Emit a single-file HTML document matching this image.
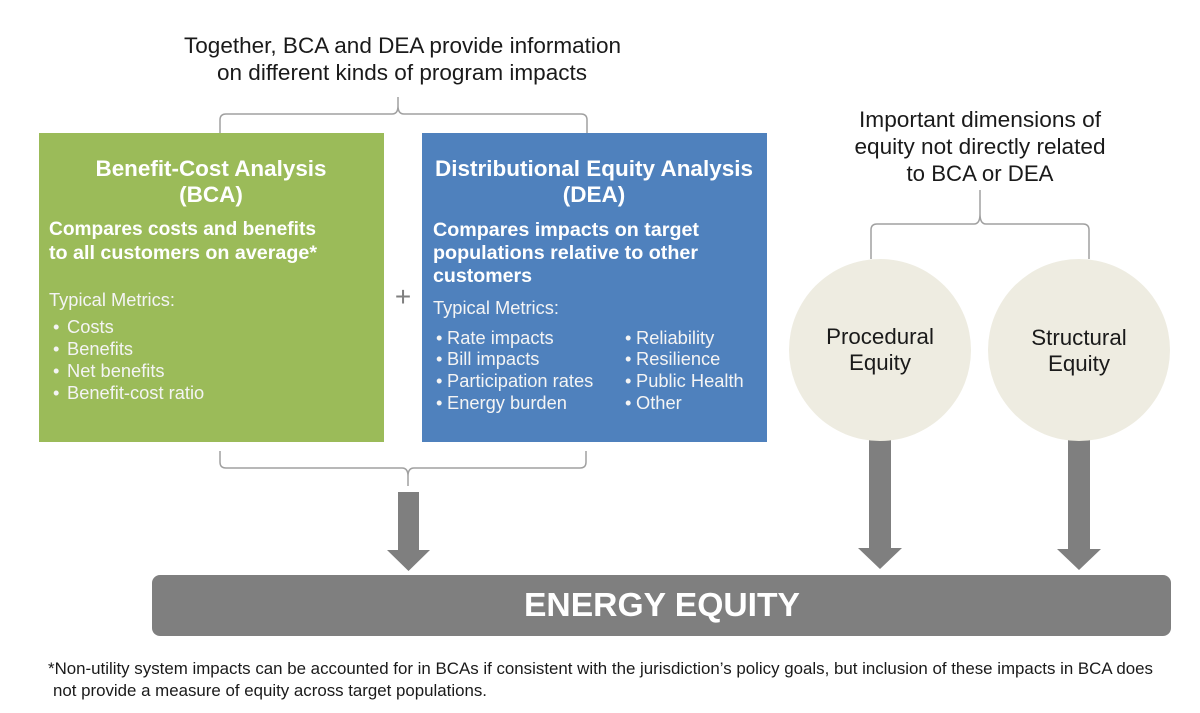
<!DOCTYPE html>
<html><head><meta charset="utf-8"><style>
html,body{margin:0;padding:0;background:#fff;}
svg{display:block;}
text{font-family:"Liberation Sans",Arial,sans-serif;}
</style></head><body>
<svg width="1200" height="713" viewBox="0 0 1200 713" xmlns="http://www.w3.org/2000/svg">
<rect width="1200" height="713" fill="#fff"/>
<!-- top title -->
<text x="184" y="53" font-size="22.5" fill="#1a1a1a" textLength="437" lengthAdjust="spacingAndGlyphs">Together, BCA and DEA provide information</text>
<text x="217" y="80" font-size="22.5" fill="#1a1a1a" textLength="370" lengthAdjust="spacingAndGlyphs">on different kinds of program impacts</text>
<!-- top brace -->
<path d="M220,133 L220,120 Q220,114 226,114 L392,114 Q398,114 398,106 L398,97 M398,106 Q398,114 404,114 L581,114 Q587,114 587,120 L587,133" fill="none" stroke="#a0a0a0" stroke-width="1.5"/>
<!-- green box -->
<rect x="39" y="133" width="345" height="309" fill="#9bbb59"/>
<text x="211" y="176" font-size="22.5" font-weight="bold" fill="#fff" text-anchor="middle" textLength="231" lengthAdjust="spacingAndGlyphs">Benefit-Cost Analysis</text>
<text x="211" y="202" font-size="22.5" font-weight="bold" fill="#fff" text-anchor="middle">(BCA)</text>
<text x="49" y="235" font-size="19" font-weight="bold" fill="#fff" textLength="267" lengthAdjust="spacingAndGlyphs">Compares costs and benefits</text>
<text x="49" y="259" font-size="19" font-weight="bold" fill="#fff" textLength="268" lengthAdjust="spacingAndGlyphs">to all customers on average*</text>
<text x="49" y="306" font-size="18.3" fill="#f4f4f4">Typical Metrics:</text>
<g font-size="18.3" fill="#f4f4f4">
<text x="53" y="333">•</text><text x="67" y="333">Costs</text>
<text x="53" y="355">•</text><text x="67" y="355">Benefits</text>
<text x="53" y="377">•</text><text x="67" y="377">Net benefits</text>
<text x="53" y="399">•</text><text x="67" y="399">Benefit-cost ratio</text>
</g>
<!-- plus -->
<text x="403" y="306" font-size="28" fill="#7f7f7f" text-anchor="middle">+</text>
<!-- blue box -->
<rect x="422" y="133" width="345" height="309" fill="#4f81bd"/>
<text x="594" y="176" font-size="22.5" font-weight="bold" fill="#fff" text-anchor="middle" textLength="318" lengthAdjust="spacingAndGlyphs">Distributional Equity Analysis</text>
<text x="594" y="202" font-size="22.5" font-weight="bold" fill="#fff" text-anchor="middle">(DEA)</text>
<text x="433" y="236" font-size="19" font-weight="bold" fill="#fff" textLength="266" lengthAdjust="spacingAndGlyphs">Compares impacts on target</text>
<text x="433" y="259" font-size="19" font-weight="bold" fill="#fff" textLength="265" lengthAdjust="spacingAndGlyphs">populations relative to other</text>
<text x="433" y="282" font-size="19" font-weight="bold" fill="#fff" textLength="99" lengthAdjust="spacingAndGlyphs">customers</text>
<text x="433" y="314" font-size="18.3" fill="#f4f4f4">Typical Metrics:</text>
<g font-size="18.3" fill="#f4f4f4">
<text x="436" y="344">•</text><text x="447" y="344">Rate impacts</text>
<text x="436" y="365">•</text><text x="447" y="365">Bill impacts</text>
<text x="436" y="387">•</text><text x="447" y="387">Participation rates</text>
<text x="436" y="409">•</text><text x="447" y="409">Energy burden</text>
<text x="625" y="344">•</text><text x="636" y="344">Reliability</text>
<text x="625" y="365">•</text><text x="636" y="365">Resilience</text>
<text x="625" y="387">•</text><text x="636" y="387">Public Health</text>
<text x="625" y="409">•</text><text x="636" y="409">Other</text>
</g>
<!-- bottom brace -->
<path d="M220,451 L220,462 Q220,468 226,468 L402,468 Q408,468 408,476 L408,486 M408,476 Q408,468 414,468 L580,468 Q586,468 586,462 L586,451" fill="none" stroke="#a0a0a0" stroke-width="1.5"/>
<!-- arrow 1 -->
<path d="M398,492 L419,492 L419,550 L430,550 L408.5,571 L387,550 L398,550 Z" fill="#7f7f7f"/>
<!-- right title -->
<text x="980" y="127" font-size="22.5" fill="#1a1a1a" text-anchor="middle" textLength="242" lengthAdjust="spacingAndGlyphs">Important dimensions of</text>
<text x="980" y="154" font-size="22.5" fill="#1a1a1a" text-anchor="middle" textLength="251" lengthAdjust="spacingAndGlyphs">equity not directly related</text>
<text x="980" y="181" font-size="22.5" fill="#1a1a1a" text-anchor="middle" textLength="147" lengthAdjust="spacingAndGlyphs">to BCA or DEA</text>
<!-- right brace -->
<path d="M871,259 L871,230 Q871,224 877,224 L974,224 Q980,224 980,214 L980,190 M980,214 Q980,224 986,224 L1083,224 Q1089,224 1089,230 L1089,259" fill="none" stroke="#a0a0a0" stroke-width="1.5"/>
<!-- circle arrows -->
<path d="M869,430 L891,430 L891,548 L902,548 L880,569 L858,548 L869,548 Z" fill="#7f7f7f"/>
<path d="M1068,430 L1090,430 L1090,549 L1101,549 L1079,570 L1057,549 L1068,549 Z" fill="#7f7f7f"/>
<!-- circles -->
<circle cx="880" cy="350" r="91" fill="#eeece1"/>
<circle cx="1079" cy="350" r="91" fill="#eeece1"/>
<text x="880" y="344" font-size="22.3" fill="#1a1a1a" text-anchor="middle">Procedural</text>
<text x="880" y="370" font-size="22.3" fill="#1a1a1a" text-anchor="middle">Equity</text>
<text x="1079" y="345" font-size="22.3" fill="#1a1a1a" text-anchor="middle">Structural</text>
<text x="1079" y="371" font-size="22.3" fill="#1a1a1a" text-anchor="middle">Equity</text>
<!-- energy equity bar -->
<rect x="152" y="575" width="1019" height="61" rx="8" ry="8" fill="#7f7f7f"/>
<text x="662" y="616" font-size="33.5" font-weight="bold" fill="#fff" text-anchor="middle" textLength="276" lengthAdjust="spacingAndGlyphs">ENERGY EQUITY</text>
<!-- footnote -->
<text x="48" y="674" font-size="16.9" fill="#1a1a1a" textLength="1105" lengthAdjust="spacingAndGlyphs">*Non-utility system impacts can be accounted for in BCAs if consistent with the jurisdiction’s policy goals, but inclusion of these impacts in BCA does</text>
<text x="53" y="696" font-size="16.9" fill="#1a1a1a" textLength="434" lengthAdjust="spacingAndGlyphs">not provide a measure of equity across target populations.</text>
</svg>
</body></html>
